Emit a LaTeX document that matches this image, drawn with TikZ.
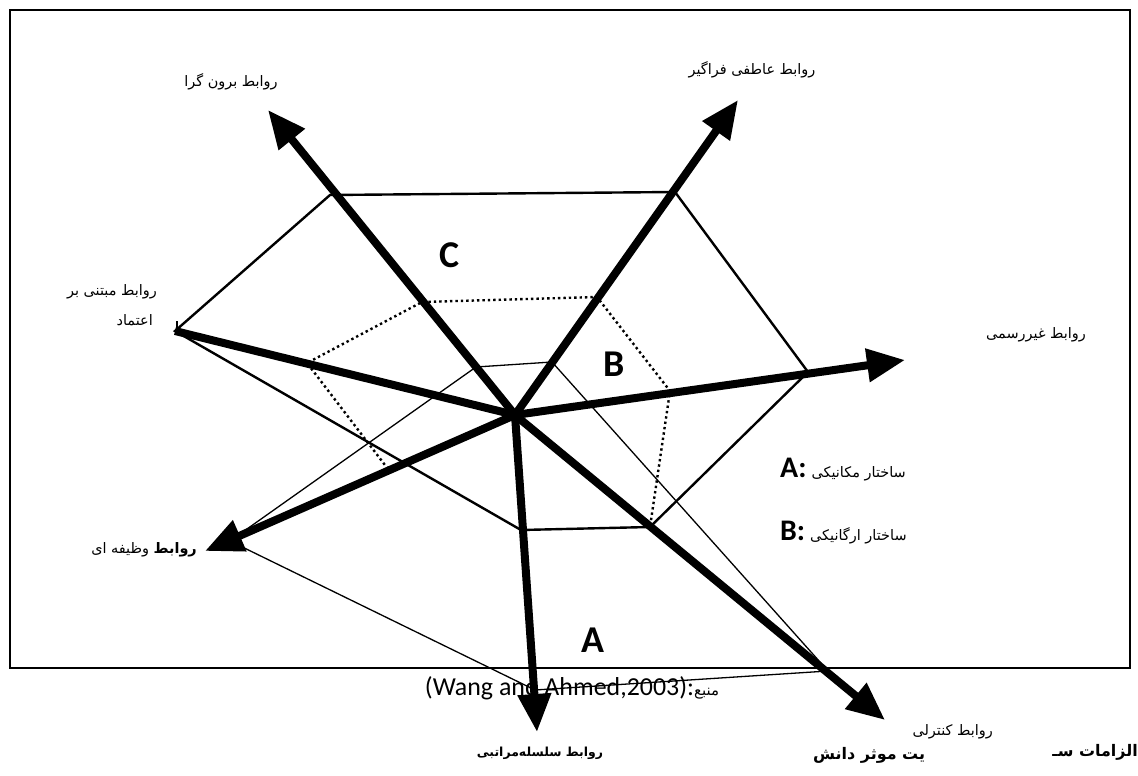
\documentclass[tikz,border=0pt]{standalone}
\usepackage{fontspec}
\setmainfont{Carlito}
\newfontfamily\ar[Script=Arabic]{DejaVu Sans}
\TeXXeTstate=1
\usetikzlibrary{arrows.meta}
\begin{document}
\begin{tikzpicture}[x=1bp,y=-1bp,
  axis/.style={line width=8bp},
  arr/.style={axis,-{Triangle[length=38bp,width=32bp]}},
  hexa/.style={line width=2.4bp,line join=miter},
  mech/.style={line width=1.3bp},
  organic/.style={line width=2.4bp,dash pattern=on 2.4bp off 3bp},
  lbl/.style={font=\ar\fontsize{14.5}{17}\selectfont,inner sep=1bp},
  big/.style={font=\bfseries\fontsize{38}{40}\selectfont,inner sep=0pt},
  leg/.style={font=\fontsize{30}{32}\selectfont,inner sep=1bp,anchor=west}]
\useasboundingbox (0,0) rectangle (1138,776);
\draw[line width=1.4bp] (10,10) rectangle (1130,668);
% axis points
\coordinate (O) at (515,415);
\coordinate (tUL) at (268,110);
\coordinate (tUR) at (738,100);
\coordinate (tR) at (905,360);
\coordinate (eL) at (175,331);
\coordinate (tLL) at (205,551);
\coordinate (tB) at (537,732);
\coordinate (tLR) at (885,720);
% hexagon vertices
\coordinate (h1) at (330,195);
\coordinate (h2) at (675,192);
\coordinate (h3) at (808,372);
\coordinate (h4) at (650,527);
\coordinate (h5) at (521,530);
% organic (dotted) vertices
\coordinate (b1) at (388,469);
\coordinate (b2) at (307,363);
\coordinate (b3) at (422,302);
\coordinate (b4) at (597,297);
\coordinate (b5) at (670,391);
% mechanical vertices
\coordinate (a1) at (230,541);
\coordinate (a2) at (476,367);
\coordinate (a3) at (552,362);
\coordinate (a4) at (828,671);
\coordinate (a5) at (535,690);
% polygons
\draw[hexa] (eL) -- (h1) -- (h2) -- (h3) -- (h4) -- (h5) -- cycle;
\draw[organic] (b1) -- (b2) -- (b3) -- (b4) -- (b5) -- (h4);
\draw[mech] (a1) -- (a2) -- (a3) -- (a4) -- (a5) -- cycle;
% axes
\draw[arr] (O) -- (tUL);
\draw[arr] (O) -- (tUR);
\draw[arr] (O) -- (tR);
\draw[arr] (O) -- (tLL);
\draw[arr] (O) -- (tB);
\draw[arr] (O) -- (tLR);
\draw[axis] (O) -- (eL);
\coordinate (k1) at (177,321);
\coordinate (k2) at (177,333);
\draw[line width=1.5bp] (k1) -- (k2);
% labels
\node[lbl] (lUL) at (231,82) {\beginR روابط برون گرا\endR};
\node[lbl] (lUR) at (752,70) {\beginR روابط عاطفی فراگیر\endR};
\node[lbl,anchor=east] (lL1) at (158,292) {\beginR روابط مبتنی بر\endR};
\node[lbl,anchor=east] (lL2) at (154,320) {\beginR اعتماد\endR};
\node[lbl,anchor=west] (lR) at (985,335) {\beginR روابط غیررسمی\endR};
\node[lbl,anchor=east] (lLR) at (994,732) {\beginR روابط کنترلی\endR};
\node[lbl,anchor=east] (lLL) at (198,550) {\beginR{\bfseries روابط} وظیفه ای\endR};
\node[lbl,font=\ar\bfseries\fontsize{12.5}{15}\selectfont] (lB) at (540,753) {\beginR روابط سلسله‌مراتبی\endR};
% region letters
\node[big] (C) at (450,255) {C};
\node[big] (B) at (614,364) {B};
\node[big] (A) at (593,640) {A};
% legend
\node[leg] (legA) at (779,470) {\textbf{A:}\,{\ar\fontsize{14.5}{17}\selectfont\beginR ساختار مکانیکی\endR}};
\node[leg] (legB) at (779,533) {\textbf{B:}\,{\ar\fontsize{14.5}{17}\selectfont\beginR ساختار ارگانیکی\endR}};
% source
\node[font=\fontsize{26}{28}\selectfont,inner sep=1bp] (src) at (572,688) {(Wang and Ahmed,2003):{\ar\fontsize{15}{17}\selectfont\beginR منبع\endR}};
% cut-off caption below
\node[font=\ar\bfseries\fontsize{16}{18}\selectfont,anchor=west,inner sep=0pt] (cap1) at (813,755) {\beginR یت موثر دانش\endR};
\node[font=\ar\bfseries\fontsize{16}{18}\selectfont,anchor=east,inner sep=0pt] (cap2) at (1138,752) {\beginR الزامات سـ\endR};
\end{tikzpicture}
\end{document}
